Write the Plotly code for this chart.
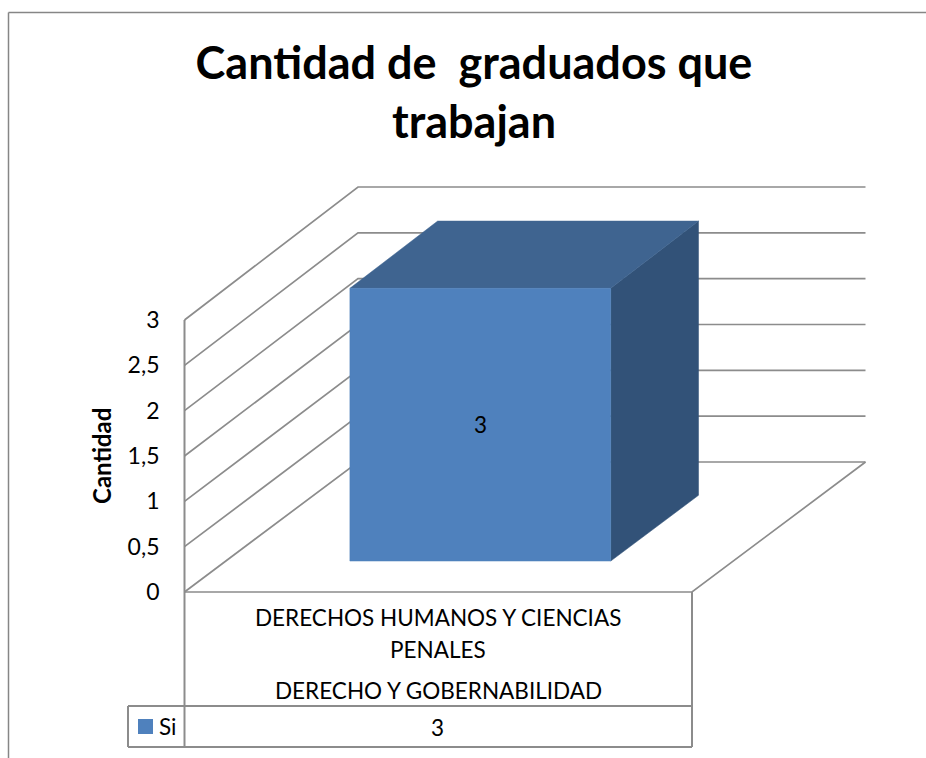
import plotly.graph_objects as go

# ---- data ----
title_lines = ["Cantidad de\u00a0 graduados que", "trabajan"]
y_axis_title = "Cantidad"
series_name = "Si"
category_lines = ["DERECHOS HUMANOS Y CIENCIAS", "PENALES", "DERECHO Y GOBERNABILIDAD"]
values = [3]
tick_values = [0, 0.5, 1, 1.5, 2, 2.5, 3]
tick_labels = ["0", "0,5", "1", "1,5", "2", "2,5", "3"]

# ---- page geometry ----
W, H = 926, 758
AXIS_X, FLOOR_Y = 184.5, 592.0
PX_PER_CAT = 507.5          # one category across the front plane
PX_PER_UNIT = 272 / 3       # pixels per value unit on the front plane
DEPTH_X = 173.5 / PX_PER_CAT   # oblique offset of the back wall, x units
DEPTH_Y = 130 / PX_PER_UNIT    # oblique offset of the back wall, value units
PERSP = 0.011

GRID = "#8c8c8c"
TXT = "#000000"
FONT = "Lato, 'Open Sans', sans-serif"
FRONT, TOP, SIDE = "#4f81bd", "#3f6490", "#325278"

BAR_X0, BAR_X1 = 0.2445, 0.7585   # bar extent inside the category
BAR_D0, BAR_D1 = 0.238, 0.744     # bar extent in depth


def pt(x, v, d=0.0):
    """Oblique projection of (category x, value v, depth d) to axis coords."""
    return x + d * DEPTH_X, v * (1 + d * PERSP) + d * DEPTH_Y


def px_x(p):
    return (p - AXIS_X) / PX_PER_CAT


def px_y(p):
    return (FLOOR_Y - p) / PX_PER_UNIT


def poly(points, **kw):
    xy = [pt(*p) for p in points]
    return go.Scatter(x=[a for a, _ in xy], y=[b for _, b in xy], hoverinfo="skip",
                      showlegend=False, cliponaxis=False, **kw)


def line(points, width=1.7, color=GRID):
    return poly(points, mode="lines", line=dict(color=color, width=width))


def face(points, color):
    return poly(points + points[:1], mode="lines", fill="toself", fillcolor=color,
                line=dict(color=color, width=0.5))


fig = go.Figure()

# walls and floor
for t in tick_values:
    fig.add_trace(line([(0, t, 0), (0, t, 1), (1, t, 1)]))
top = max(tick_values)
fig.add_trace(line([(0, 0, 0), (0, top, 0)], width=2))
fig.add_trace(line([(0, 0, 0), (1, 0, 0), (1, 0, 1)]))

# the 3-D bar
for v in values:
    fig.add_trace(face([(BAR_X1, 0, BAR_D0), (BAR_X1, 0, BAR_D1), (BAR_X1, v, BAR_D1), (BAR_X1, v, BAR_D0)], SIDE))
    fig.add_trace(face([(BAR_X0, v, BAR_D0), (BAR_X1, v, BAR_D0), (BAR_X1, v, BAR_D1), (BAR_X0, v, BAR_D1)], TOP))
    fig.add_trace(face([(BAR_X0, 0, BAR_D0), (BAR_X1, 0, BAR_D0), (BAR_X1, v, BAR_D0), (BAR_X0, v, BAR_D0)], FRONT))

# data table under the axis
ROW_Y, TABLE_BOTTOM, LEG_X = 706.0, 747.0, 128.0
tb = [
    ((AXIS_X, FLOOR_Y), (AXIS_X, TABLE_BOTTOM)),
    ((AXIS_X + PX_PER_CAT, FLOOR_Y), (AXIS_X + PX_PER_CAT, TABLE_BOTTOM)),
    ((LEG_X, ROW_Y), (AXIS_X + PX_PER_CAT, ROW_Y)),
    ((LEG_X, TABLE_BOTTOM), (AXIS_X + PX_PER_CAT, TABLE_BOTTOM)),
    ((LEG_X, ROW_Y), (LEG_X, TABLE_BOTTOM)),
]
for a, b in tb:
    fig.add_trace(line([(px_x(a[0]), px_y(a[1])), (px_x(b[0]), px_y(b[1]))], width=2))

# legend key
fig.add_trace(go.Scatter(x=[px_x(145.5)], y=[px_y(726.5)], mode="markers",
                         marker=dict(symbol="square", size=15, color=FRONT),
                         name=series_name, showlegend=False, hoverinfo="skip", cliponaxis=False))


def note(x, y, text, size=22.5, **kw):
    fig.add_annotation(x=x, y=y, text=text, showarrow=False, xref="x", yref="y",
                       font=dict(family=FONT, size=size, color=TXT), **kw)


note(px_x(438), px_y(617.5), category_lines[0])
note(px_x(438), px_y(649.5), category_lines[1])
note(px_x(438), px_y(690.5), category_lines[2])
note(px_x(437), px_y(727), str(values[0]))
note(px_x(168), px_y(726), series_name)
note(px_x(480), px_y(424), str(values[0]))
note(px_x(101), px_y(456), f"<b>{y_axis_title}</b>", size=24, textangle=-90)

fig.update_layout(
    width=W, height=H, margin=dict(l=0, r=0, t=0, b=0),
    paper_bgcolor="white", plot_bgcolor="white", showlegend=False,
    separators=", ",
    title=dict(text="<b>" + "<br>".join(title_lines) + "</b>",
               font=dict(family=FONT, size=45, color=TXT),
               xref="paper", yref="paper", x=474 / W, y=1 - 79 / H,
               xanchor="center", yanchor="middle"),
    xaxis=dict(range=[px_x(0), px_x(W)], domain=[0, 1], visible=False, fixedrange=True),
    yaxis=dict(range=[px_y(H), px_y(0)], domain=[0, 1], anchor="free", position=AXIS_X / W,
               tickvals=tick_values, ticktext=tick_labels, showgrid=False, zeroline=False,
               showline=False, ticks="", ticklabelstandoff=25, fixedrange=True,
               tickfont=dict(family=FONT, size=23, color=TXT)),
    shapes=[
        dict(type="line", xref="paper", yref="paper", x0=8.5 / W, x1=1, y0=1 - 12.5 / H, y1=1 - 12.5 / H,
             line=dict(color="#868686", width=1.5)),
        dict(type="line", xref="paper", yref="paper", x0=8.5 / W, x1=8.5 / W, y0=0, y1=1 - 12.5 / H,
             line=dict(color="#868686", width=1.5)),
    ],
)

fig.write_html("out.html", config={"displayModeBar": False},
               post_script="document.body.style.margin='0';document.documentElement.style.overflow='hidden';")
